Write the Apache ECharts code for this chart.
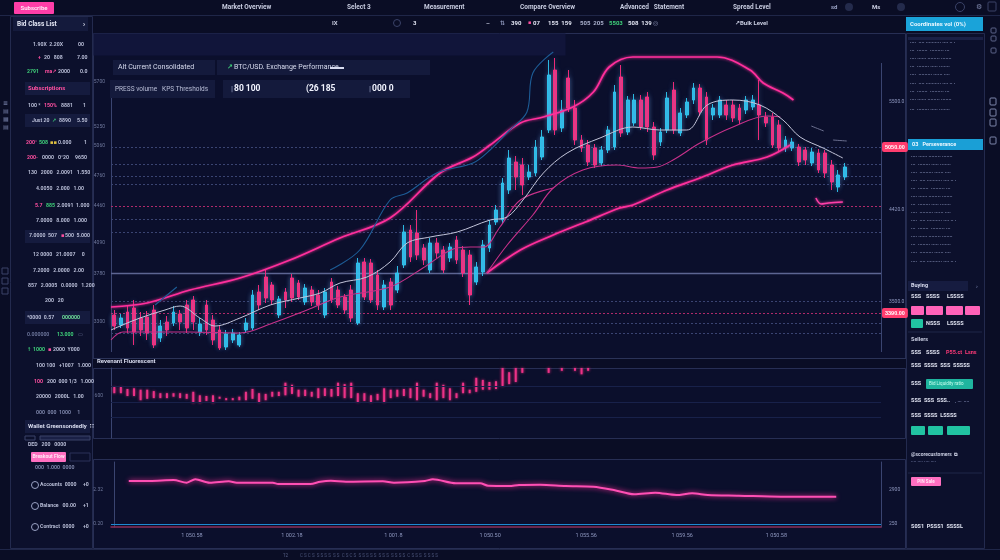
<!DOCTYPE html>
<html>
<head>
<meta charset="utf-8">
<title>Trading dashboard</title>
<script src="https://cdn.jsdelivr.net/npm/echarts@6.0.0/dist/echarts.min.js"></script>
<style>
html, body { margin: 0; padding: 0; background: #0a0d25; }
#chart { width: 1000px; height: 560px; }
</style>
</head>
<body>
<div id="chart"></div>
<script>
// candles: [open, close, low, high]
var candles = [
  [3370,3260,3220,3420],[3270,3340,3240,3380],[3400,3240,3190,3460],[3440,3200,3070,3520],
  [3340,3220,3160,3400],[3350,3190,3120,3410],[3420,3070,3040,3470],[3140,3260,3100,3320],
  [3300,3220,3160,3360],[3290,3400,3260,3460],[3380,3300,3220,3420],[3470,3240,3190,3520],
  [3520,3300,3220,3560],[3200,3280,3160,3340],[3470,3220,3170,3520],[3320,3120,3070,3370],
  [3220,3040,3020,3260],[3050,3180,3020,3220],[3120,3190,3090,3230],[3070,3170,3050,3200],
  [3220,3290,3190,3340],[3240,3570,3220,3620],[3600,3470,3420,3670],[3750,3540,3490,3820],
  [3670,3520,3470,3700],[3370,3530,3340,3560],[3600,3520,3440,3640],[3740,3540,3500,3780],
  [3690,3550,3520,3720],[3500,3640,3470,3680],[3620,3500,3460,3660],[3570,3470,3420,3620],
  [3370,3600,3340,3640],[3700,3520,3490,3740],[3620,3470,3440,3660],[3550,3420,3380,3580],
  [3620,3340,3300,3670],[3290,3890,3270,3940],[3900,3550,3520,3940],[3890,3520,3490,3930],
  [3770,3470,3420,3820],[3450,3670,3420,3720],[3700,3470,3420,3740],[3620,3790,3590,3860],
  [3870,4200,3840,4270],[4220,3950,3900,4270],[4190,3970,3920,4420],[4040,3920,3870,4080],
  [3820,4090,3790,4140],[4090,3990,3940,4140],[4020,3820,3790,4060],[3940,4050,3900,4090],
  [4120,3920,3880,4160],[4020,3790,3750,4060],[3970,3570,3470,4020],[3700,3850,3670,3900],
  [3800,4070,3760,4120],[4040,4270,4000,4320],[4300,4420,4270,4470],[4320,4690,4280,4740],
  [4620,4940,4580,5020],[4900,4750,4620,4960],[4870,4670,4570,4940],[4750,4800,4720,4870],
  [4790,5050,4760,5120],[4950,5150,4920,5220],[5220,5770,5190,5920],[5820,5220,5170,5940],
  [5240,5420,5200,5520],[5740,5440,5400,5820],[5440,5120,5070,5520],[5120,5040,5000,5170],
  [5070,4900,4860,5120],[5040,4870,4840,5080],[4890,5020,4860,5060],[5020,5220,4990,5260],
  [5050,5600,5020,5670],[5750,5190,5150,5870],[5200,5520,5170,5560],[5290,5520,5260,5580],
  [5520,5250,5220,5570],[5550,5250,5200,5600],[5250,4970,4920,5300],[5100,5200,5060,5240],
  [5220,5540,5190,5600],[5620,5220,5180,5700],[5190,5390,5160,5440],[5370,5500,5340,5540],
  [5520,5640,5480,5690],[5640,5400,5360,5680],[5550,5120,5070,5600],[5370,5440,5320,5480],
  [5370,5520,5340,5560],[5470,5370,5320,5520],[5470,5340,5300,5520],[5440,5320,5280,5480],
  [5420,5520,5380,5560],[5450,5520,5420,5570],[5470,5370,5120,5720],[5350,5290,5250,5400],
  [5350,5070,5040,5390],[5270,5040,5000,5320],[5040,5120,5000,5160],[5040,5100,5010,5140],
  [5050,4900,4860,5080],[5020,4920,4870,5050],[4890,5000,4860,5040],[4990,4820,4790,5030],
  [4990,4790,4740,5020],[4870,4700,4620,4920],[4650,4770,4600,4820],[4750,4850,4720,4890]
];
var emptySlots = 5;

// indicator lines: [candle index, price]
var upperBand = [[-0.5,3450],[5,3490],[11.5,3620],[19.1,3740],[26.7,3920],[34.3,4140],[41.9,4340],
  [49.5,4790],[54.5,4950],[57.1,5070],[61.7,5290],[65.2,5350],[69.7,5450],[72.8,5600],[75.2,5850],
  [78.8,5950],[91.6,5950],[96.6,5820],[98.6,5690],[101.6,5590],[103.2,5520]];
var lowerBand = [[56.6,3790],[61.7,4020],[66.7,4170],[71.6,4300],[76.8,4440],[78.8,4470],[84,4620],
  [89,4740],[94,4870],[99.2,4950],[102.7,5070]];
var innerA = [[56.6,3790],[59.7,4070],[63.6,4370],[66.7,4640],[71.2,4820],[76.4,4870],[79.9,4840],
  [82.5,4850],[84.9,4920],[89,5090],[94,5250],[99.2,5360],[101.2,5350]];
var innerB = [[-0.5,3120],[1.3,3200],[11.5,3200],[19.1,3190],[24.1,3290],[29.3,3420],[34.3,3550],
  [41.9,3650],[46.9,3840],[51.5,4030],[54.1,4050],[56.1,4050],[58.6,4250],[61.7,4520],[66.7,4640]];
var maLine = [[-0.5,3220],[0.9,3260],[3.9,3340],[7.7,3420],[10,3460],[13,3340],[15.3,3260],[19.1,3340],
  [23.7,3470],[28.2,3540],[31.3,3590],[34.3,3690],[38.4,3750],[41.9,3900],[44.5,4090],[48,4150],
  [52.1,4200],[57.1,4320],[59.7,4350],[62.1,4520],[65.2,4790],[68.8,4990],[73.8,5140],[78.8,5250],
  [82.9,5220],[87,5220],[90.1,5470],[94,5520],[98.1,5470],[101.6,5320],[104.2,5150],[107.7,5040],[110.7,4940]];
var trendA = [[6.2,3470],[9.5,3650]];
var trendB = [[32.8,3820],[37.3,4020],[41.9,4520],[44.5,4590],[49,4790],[54.5,4890],[57.1,5020],
  [60.1,5220],[62.7,5400],[63.6,5790],[66.7,6000]];
var tailPink = [[106.6,4540],[107.4,4480],[108.5,4490],[110.7,4500]];
var tailGhost1 = [[105.9,5260],[107.8,5210]];
var tailGhost2 = [[109.2,5120],[111.3,5110]];

var levelsGray = [5050,4880,4760,4680,4330,4200,3510,3290,3190];
var levelsPink = [4460,3390];
var levelSolid = 3790;
var badgeLevels = [5050,3390];
var leftTicks = [5700,5250,5060,4760,4460,4090,3780,3300];
var rightTicks = [5500,4420,3500];

// volume (low/high of each floating bar), one entry per candle
var volLow = [640,640,600,600,540,560,570,570,570,590,570,560,500,500,530,500,560,540,540,540,
  540,560,510,540,590,600,610,630,590,600,590,570,600,590,600,570,570,510,530,510,540,510,570,590,
  600,570,540,590,570,540,570,540,570,640,640,660,690,690,700,740,770,800,930,null,null,null,930,
  null,960,null,960,910,960];
var volHigh = [730,730,700,710,690,690,670,640,640,640,640,630,660,610,600,610,590,570,570,590,
  660,700,640,630,660,660,790,760,690,690,660,710,710,700,790,770,790,640,640,610,630,710,690,690,
  700,710,790,690,640,790,760,710,640,790,690,860,830,800,810,1000,940,1000,1000,null,null,null,1000,
  null,1000,null,1000,1000,1000];
var volTicks = [600];
var volGuides = [743,514,300];

// lower oscillator
var oscLine = [[2.2,70.8],[5.4,70.8],[9,72.3],[11,68.2],[12.3,73.4],[14.5,68.2],[17.4,70.3],[18.6,68.2],
  [24.1,68.2],[24.9,66.2],[29.8,66.2],[31.3,69.7],[32.9,71.2],[35.2,69.7],[40.8,70.3],[42.5,68.2],
  [47.2,70.8],[48.4,73.4],[51.9,67.2],[55.6,67.2],[56.8,63.5],[60,63.1],[61.5,64.6],[64.7,65.1],
  [68.6,63.1],[72.8,62],[75.9,56.9],[79,50.3],[82.2,52.8],[85.4,49.2],[87.8,51.8],[90.2,49.2],
  [94.9,48.2],[101.3,46.6],[109.7,46.6]];
var oscBase = 5;
var oscTicks = [58,5];
var timeTicks = [11.8,27,42.4,57.1,71.7,86.3,100.6];
var timeLabels = ['1 050.58','1 002.18','1 001.8','1 050.50','1 055.56','1 059.56','1 050.58'];

var categories = candles.map(function (c, i) { return 'T' + (i + 1); });
for (var k = 0; k < emptySlots; k++) { categories.push(''); }
var volBase = volLow;
var volSize = volHigh.map(function (h, i) { return h === null ? null : h - volLow[i]; });

var FONT = 'Roboto, "DejaVu Sans", sans-serif';
var UP = '#2fc7f0', DOWN = '#ff2d7e', PINK = '#ff2f9c';

function txt(x, y, s, c, sz, w, align) {
  return { type: 'text', x: x, y: y, z: 20, silent: true,
    style: { text: s, fill: c || '#b9bfd8', fontSize: sz || 6, fontFamily: FONT,
      fontWeight: w || 'bold', verticalAlign: 'middle', align: align || 'left' } };
}
function rect(x, y, w, h, fill, stroke, r) {
  return { type: 'rect', z: 0, silent: true, shape: { x: x, y: y, width: w, height: h, r: r || 0 },
    style: { fill: fill || 'none', stroke: stroke || null, lineWidth: 1 } };
}
function seg(x1, y1, x2, y2, c, w) {
  return { type: 'line', z: 1, silent: true, shape: { x1: x1, y1: y1, x2: x2, y2: y2 },
    style: { stroke: c, lineWidth: w || 1 } };
}
function circ(cx, cy, r, fill, stroke) {
  return { type: 'circle', z: 1, silent: true, shape: { cx: cx, cy: cy, r: r },
    style: { fill: fill || 'none', stroke: stroke || null, lineWidth: 1 } };
}

var G = '#b8bdd6', PK = '#ff4fa0', GR = '#3fd07a';
var leftRows = [
  [45, [[33, '1.90X  2.20X', G], [78, '00', G]]],
  [58, [[38, '+', PK], [44, '20   808', G], [77, '7.00', G]]],
  [72, [[27, '2791', GR], [45, 'ma↗', PK], [58, '2000', G], [80, '0.0', G]]],
  [106, [[28, '100 *', G], [44, '150%', PK], [61, '8881', G], [83, '1', G]]],
  [121, [[32, 'Just 20', G], [52, '↗', GR], [59, '8890', G], [77, '5.50', G]]],
  [143, [[26, '200°', PK], [39, '508', GR], [50, '▪▪', '#e0c040'], [58, '0.000', G], [84, '1', G]]],
  [158, [[27, '200-', PK], [42, '0000', G], [58, '0°20', G], [75, '9650', G]]],
  [173, [[28, '130   2000   2.0091   1.550', G]]],
  [189, [[36, '4.0050   2.000   1.00', G]]],
  [206, [[35, '5.7', PK], [46, '885', GR], [57, '2.0091  1.000', G]]],
  [221, [[36, '7.0000   8.000   1.000', G]]],
  [236, [[29, '7.0000  507', G], [61, '▪', PK], [65, '500  5.000', G]]],
  [255, [[33, '12 0000   21.0007     0', G]]],
  [271, [[33, '7.2000   2.0000   2.00', G]]],
  [286, [[28, '857   2.0005   0.0000   1.200', G]]],
  [301, [[45, '200   20', G]]],
  [318, [[27, '*0000  0.57', G], [62, '000000', '#6fe09a']]],
  [335, [[27, '0.000000', '#6a7398'], [57, '13.000', GR], [78, '▭', '#6a7398']]],
  [350, [[27, '↑', GR], [33, '1000', GR], [48, '▪', PK], [53, '2000  Y000', G]]],
  [366, [[36, '100 100   +1007   1.000', G]]],
  [382, [[34, '100', PK], [47, '200  000 1/3   1.000', G]]],
  [397, [[36, '20000   2000L   1.00', G]]],
  [413, [[36, '000  000  1000     1', '#7c84a8']]],
  [445, [[28, 'DED   200   0000', G]]],
  [468, [[35, '000  1.000  0000', '#7c84a8']]],
  [485, [[40, 'Accounts  0000', G], [83, '+0', G]]],
  [506, [[40, 'Balance   00.00', G], [83, '+1', G]]],
  [527, [[40, 'Contract  0000', G], [83, '+0', G]]]
];
var leftBands = [[82, 'Subscriptions', PK], [114, null], [230, null], [311, null], [420, 'Wallet Greensondedly  ∷', '#d8dcef']];

var rightRowsTop = [43, 51, 59, 67, 75, 84, 92, 100, 110];
var rightRowsMid = [157, 165, 173, 181, 189, 197, 205, 213, 221, 229, 237, 245, 253, 262];
var rightRowText = ['····  ···· ·········· ···· ·· ·', '···  ·······  ········· ···', '···· ······ ········ ·······',
  '···  ········ ····· ·······', '····  ········· ······ ····'];

var topMenu = [[222, 'Market Overview'], [347, 'Select 3'], [424, 'Measurement'], [520, 'Compare Overview'],
  [620, 'Advanced   Statement'], [733, 'Spread Level']];

function buildGraphic() {
  var g = [];
  // frames
  g.push(seg(0, 15.5, 1000, 15.5, '#1f2648'));
  g.push(rect(10.5, 16.5, 82, 532, '#0c102c', '#232a4e'));
  g.push(rect(93.5, 33.5, 812, 325, '#0b0f2c', '#272e54'));
  g.push(rect(93.5, 33.5, 472, 22, '#11153a', null));
  g.push(rect(93.5, 368.5, 812, 70, '#0b0f2c', '#272e54'));
  g.push(rect(93.5, 459.5, 812, 89, '#0b0f2c', '#272e54'));
  g.push(rect(906.5, 33.5, 78, 515, '#0c102c', '#232a4e'));
  g.push(seg(111.5, 98, 111.5, 352, '#3a4470'));
  g.push(seg(881.5, 63, 881.5, 352, '#3a4470'));
  g.push(seg(93, 358.5, 906, 358.5, '#2b3358'));
  g.push(seg(0, 549.5, 1000, 549.5, '#1f2648'));
  // top bar
  g.push(rect(14, 2, 40, 12, '#ff3ea8', null, 1));
  g.push(txt(34, 8, 'Subscribe', '#ffe6f4', 6, 'bold', 'center'));
  topMenu.forEach(function (m) { g.push(txt(m[0], 7, m[1], '#c8cce0', 6.5)); });
  g.push(txt(831, 7, 'sd', '#9aa2c4', 6)); g.push(circ(849, 7, 4, '#242b4c'));
  g.push(txt(872, 7, 'Ms', '#c8cce0', 6)); g.push(circ(901, 7, 4, '#242b4c'));
  g.push(circ(960, 7, 4.5, null, '#3a4268')); g.push(txt(976, 7, '⚙', '#7d86ab', 7));
  g.push(rect(988, 2, 8, 9, null, '#3a4268', 1));
  // second bar
  g.push(rect(13, 17, 75, 14, '#141a3c', null));
  g.push(txt(17, 24, 'Bid Class List', '#e2e5f3', 6.5)); g.push(txt(83, 24, '›', '#e2e5f3', 7));
  g.push(txt(332, 23, 'IX', '#c8cce0', 6)); g.push(circ(397, 23, 3.5, null, '#3a4268'));
  g.push(txt(413, 23, '3', '#e2e5f3', 6)); g.push(txt(486, 23, '–', '#c8cce0', 6));
  g.push(txt(500, 23, '⇅', '#8a92b6', 6)); g.push(txt(511, 23, '390', '#e2e5f3', 6));
  g.push(txt(528, 23, '▪', PK, 5)); g.push(txt(533, 23, '07', '#e2e5f3', 6));
  g.push(txt(548, 23, '155  159', '#e2e5f3', 6)); g.push(txt(580, 23, '505  205', '#aab0cc', 6));
  g.push(txt(609, 23, '5503', GR, 6)); g.push(txt(628, 23, '508  139', '#e2e5f3', 6));
  g.push(txt(653, 23, '◎', '#8a92b6', 6)); g.push(txt(735, 23, '↗Bulk Level', '#c8cce0', 6));
  g.push(rect(906, 17, 77, 14, '#1aa3d9', null));
  g.push(txt(910, 24, 'Coordinates vol (0%)', '#eaf7ff', 6));
  // chart info boxes
  g.push(rect(113, 60, 102, 15, '#141a3c', null));
  g.push(txt(118, 67.5, 'Alt Current Consolidated', '#d8dcef', 7, 'normal'));
  g.push(rect(217, 60, 213, 15, '#141a3c', null));
  g.push(txt(227, 67.5, '↗', GR, 7)); g.push(txt(234, 67.5, 'BTC/USD. Exchange Performance', '#d8dcef', 7, 'normal'));
  g.push(rect(330, 67, 14, 2, '#d8dcef', null));
  g.push(rect(110, 80, 105, 18, '#141a3c', null));
  g.push(txt(115, 89, 'PRESS volume   KPS Thresholds', '#b8bdd6', 6.5, 'normal'));
  g.push(rect(223, 80, 187, 18, '#141a3c', null));
  g.push(txt(231, 89, '|', '#8a92b6', 8)); g.push(txt(234, 89, '80 100', '#f2f4ff', 8.5));
  g.push(txt(306, 89, '(26 185', '#f2f4ff', 8.5));
  g.push(txt(369, 89, '|', '#8a92b6', 8)); g.push(txt(372, 89, '000 0', '#f2f4ff', 8.5));
  g.push(txt(97, 361, 'Revenant Fluorescent', '#d8dcef', 6));
  // left sidebar
  leftBands.forEach(function (b) {
    g.push(rect(25, b[0], 65, 13, '#151b3e', null));
    if (b[1]) { g.push(txt(28, b[0] + 6.5, b[1], b[2], 6)); }
  });
  leftRows.forEach(function (r) {
    r[1].forEach(function (s) { g.push(txt(s[0], r[0], s[1], s[2], 5.2)); });
  });
  g.push(rect(25, 436, 10, 4, null, '#3a4268')); g.push(rect(40, 436, 50, 4, '#1a2046', '#3a4268'));
  g.push(rect(31, 452, 35, 10, '#ff6fc0', null, 1));
  g.push(txt(48.5, 457, 'Breakout Flow', '#ffe6f4', 5, 'bold', 'center'));
  g.push(rect(70, 453, 20, 8, null, '#2a3158'));
  [485, 506, 527].forEach(function (y) { g.push(circ(35, y, 3.5, null, '#9aa2c4')); });
  ['≡', '▤', '▦', '▤'].forEach(function (s, i) { g.push(txt(3, 103 + i * 8, s, '#6f78a0', 6)); });
  [268, 278, 288].forEach(function (y) { g.push(rect(2, y, 6, 6, null, '#3a4268')); });
  // right sidebar
  g.push(rect(908, 37, 75, 3, '#1a2046', null));
  rightRowsTop.forEach(function (y, i) { g.push(txt(910, y, rightRowText[i % 5], '#8e97bf', 5, 'bold')); });
  g.push(rect(908, 139, 75, 11, '#1a9fd6', null));
  g.push(txt(912, 144.5, '03   Perseverance', '#eaf7ff', 5.5));
  rightRowsMid.forEach(function (y, i) { g.push(txt(911, y, rightRowText[(i + 2) % 5], '#8e97bf', 5, 'bold')); });
  g.push(rect(908, 281, 60, 10, '#161c40', null));
  g.push(txt(911, 286, 'Buying', '#d8dcef', 5.5)); g.push(txt(976, 286, '›', '#6f78a0', 6));
  g.push(txt(911, 297, 'SSS', '#e2e5f3', 5.5)); g.push(txt(926, 297, 'SSSS', '#e2e5f3', 5.5)); g.push(txt(947, 297, 'LSSSS', '#e2e5f3', 5.5));
  [[911, 13], [926, 17], [946, 17], [965, 15]].forEach(function (p) { g.push(rect(p[0], 306, p[1], 9, '#ff62b8', null, 1)); });
  g.push(rect(911, 319, 12, 9, '#21c3a1', null, 1));
  g.push(txt(926, 323.5, 'NSSS', '#e2e5f3', 5.5)); g.push(txt(947, 323.5, 'LSSSS', '#e2e5f3', 5.5));
  g.push(seg(908, 332, 982, 332, '#1f2648'));
  g.push(txt(911, 340, 'Sellers', '#c8cce0', 5.5));
  g.push(txt(911, 353, 'SSS', '#e2e5f3', 5.5)); g.push(txt(926, 353, 'SSSS', '#e2e5f3', 5.5));
  g.push(txt(946, 353, 'P55.ct  Lsns', '#ff3a78', 5.5));
  g.push(txt(911, 366, 'SSS  SSSS  SSS  SSSSS', '#e2e5f3', 5.5));
  g.push(txt(911, 384, 'SSS', '#e2e5f3', 5.5)); g.push(rect(926, 379, 47, 10, '#1fb59f', null, 1));
  g.push(txt(929, 384, 'Bid Liquidity ratio', '#c8fff0', 4.5, 'normal'));
  g.push(txt(911, 401, 'SSS  SSS  SSS..', '#e2e5f3', 5.5)); g.push(txt(955, 402, '. ···  ····', '#8e97bf', 4.5));
  g.push(txt(911, 416, 'SSS  SSSS  LSSSS', '#e2e5f3', 5.5));
  [[911, 14], [928, 15], [947, 23]].forEach(function (p) { g.push(rect(p[0], 426, p[1], 9, '#21c3a1', null, 1)); });
  g.push(txt(911, 455, '@scorecustomers  ⧉', '#c8cce0', 5)); g.push(txt(911, 462, '···· ···· ···· ····', '#6f78a0', 4.5));
  g.push(seg(908, 473, 982, 473, '#1f2648'));
  g.push(rect(911, 477, 30, 9, '#ff6fc0', null, 1));
  g.push(txt(926, 481.5, 'PIN Sale', '#ffe6f4', 4.5, 'bold', 'center'));
  g.push(txt(911, 527, 'S0S1  PSSS1  SSSSL', '#e2e5f3', 5.5));
  [101, 112, 122, 140].forEach(function (y) { g.push(rect(990, y - 3, 6, 7, null, '#7d86ab', 1)); });
  [30, 38, 50].forEach(function (y) { g.push(rect(991, y - 2, 5, 5, null, '#5a6388', 1)); });
  // bottom strip
  g.push(txt(283, 556, '12', '#5a6388', 4.5, 'normal'));
  g.push(txt(300, 556, 'C S C S  S S S S  S S  C S C S  S S S S S  S S S  S S S S  C S S S  S S S S', '#4a5378', 4.5, 'normal'));
  return g;
}

function badge(v) {
  return { show: true, position: 'end', formatter: v.toFixed(2), backgroundColor: '#ff3d6e',
    color: '#fff', fontSize: 5.5, fontWeight: 'bold', padding: [2, 3], borderRadius: 2, distance: 1 };
}
var levelLines = [];
levelsGray.forEach(function (v) {
  var item = { yAxis: v, lineStyle: { color: '#3a4472', type: [2, 2], width: 1 } };
  if (badgeLevels.indexOf(v) >= 0) { item.label = badge(v); }
  levelLines.push(item);
});
levelsPink.forEach(function (v) {
  var item = { yAxis: v, lineStyle: { color: '#b0296a', type: [2, 2], width: 1 } };
  if (badgeLevels.indexOf(v) >= 0) { item.label = badge(v); }
  levelLines.push(item);
});
levelLines.push({ yAxis: levelSolid, lineStyle: { color: '#5d6592', type: 'solid', width: 1.3 } });

function bandLine(name, data, color, width, glow) {
  return { name: name, type: 'line', xAxisIndex: 1, yAxisIndex: 0, data: data, showSymbol: false,
    smooth: 0.35, z: 4, silent: true,
    lineStyle: { color: color, width: width, shadowBlur: glow ? 3 : 0, shadowColor: color } };
}

var chart = echarts.init(document.getElementById('chart'));
var option = {
  backgroundColor: '#0a0d25',
  animation: false,
  graphic: { elements: buildGraphic() },
  grid: [
    { left: 111, top: 35, width: 770, height: 317 },
    { left: 111, top: 368, width: 770, height: 70 },
    { left: 111, top: 462, width: 770, height: 65 }
  ],
  xAxis: [
    { type: 'category', gridIndex: 0, data: categories, show: false },
    { type: 'value', gridIndex: 0, min: -0.5, max: categories.length - 0.5, show: false },
    { type: 'category', gridIndex: 1, data: categories, show: false },
    { type: 'value', gridIndex: 2, min: -0.5, max: categories.length - 0.5,
      axisLine: { show: true, lineStyle: { color: '#8a2f55', width: 1.5 } },
      axisTick: { show: false }, splitLine: { show: false },
      axisLabel: { customValues: timeTicks, color: '#8e97bf', fontSize: 5.5, margin: 6, fontFamily: FONT,
        formatter: function (v) { var i = timeTicks.indexOf(v); return i < 0 ? '' : timeLabels[i]; } } }
  ],
  yAxis: [
    { type: 'value', gridIndex: 0, min: 3000, max: 6170, position: 'left',
      axisLine: { show: false }, axisTick: { show: false }, splitLine: { show: false },
      axisLabel: { customValues: leftTicks, color: '#6f789c', fontSize: 5, margin: 6, fontFamily: FONT,
        formatter: function (v) { return String(v); } } },
    { type: 'value', gridIndex: 0, min: 3000, max: 6170, position: 'right',
      axisLine: { show: false }, axisTick: { show: false }, splitLine: { show: false },
      axisLabel: { customValues: rightTicks, color: '#8e97bf', fontSize: 5, margin: 8, fontFamily: FONT,
        formatter: function (v) { return v.toFixed(1); } } },
    { type: 'value', gridIndex: 1, min: 0, max: 1000,
      axisLine: { show: true, lineStyle: { color: '#3a4470' } }, axisTick: { show: false }, splitLine: { show: false },
      axisLabel: { customValues: volTicks, color: '#6f789c', fontSize: 5, margin: 8, fontFamily: FONT } },
    { type: 'value', gridIndex: 2, min: 0, max: 100, position: 'left',
      axisLine: { show: true, lineStyle: { color: '#3a4470' } }, axisTick: { show: false }, splitLine: { show: false },
      axisLabel: { customValues: oscTicks, color: '#6f789c', fontSize: 5, margin: 8, fontFamily: FONT,
        formatter: function (v) { return (v / 25).toFixed(2); } } },
    { type: 'value', gridIndex: 2, min: 0, max: 100, position: 'right',
      axisLine: { show: true, lineStyle: { color: '#3a4470' } }, axisTick: { show: false }, splitLine: { show: false },
      axisLabel: { customValues: oscTicks, color: '#8e97bf', fontSize: 5, margin: 8, fontFamily: FONT,
        formatter: function (v) { return (v * 50).toFixed(0); } } }
  ],
  series: [
    { name: 'price', type: 'candlestick', xAxisIndex: 0, yAxisIndex: 0, data: candles,
      barMaxWidth: 4.6, z: 3, silent: true,
      itemStyle: { color: UP, color0: DOWN, borderColor: UP, borderColor0: DOWN, borderWidth: 1,
        shadowBlur: 5, shadowColor: 'rgba(120,180,255,0.45)', opacity: 0.92 },
      markLine: { silent: true, symbol: 'none', label: { show: false }, data: levelLines, z: 1 } },
    bandLine('upper', upperBand, PINK, 1.7, true),
    bandLine('lower', lowerBand, PINK, 1.7, true),
    bandLine('innerA', innerA, '#c7318a', 1.1, false),
    bandLine('innerB', innerB, '#c7318a', 1.1, false),
    bandLine('ma', maLine, '#c3c5da', 1, false),
    bandLine('trendA', trendA, '#1d5c96', 1.1, false),
    bandLine('trendB', trendB, '#1d5c96', 1.1, false),
    bandLine('tail', tailPink, '#ff3fa8', 1.5, true),
    bandLine('ghost1', tailGhost1, '#6c7090', 1, false),
    bandLine('ghost2', tailGhost2, '#6c7090', 1, false),
    { name: 'volBase', type: 'bar', xAxisIndex: 2, yAxisIndex: 2, stack: 'vol', data: volBase,
      barWidth: 2, silent: true, itemStyle: { color: 'rgba(0,0,0,0)' },
      markLine: { silent: true, symbol: 'none', label: { show: false },
        data: volGuides.map(function (v) { return { yAxis: v }; }),
        lineStyle: { color: '#18214a', type: 'solid', width: 1 } } },
    { name: 'volume', type: 'bar', xAxisIndex: 2, yAxisIndex: 2, stack: 'vol', data: volSize,
      barWidth: 2, silent: true, itemStyle: { color: '#ec3288', shadowBlur: 3, shadowColor: '#ff2d7e' } },
    { name: 'oscillator', type: 'line', xAxisIndex: 3, yAxisIndex: 3, data: oscLine, showSymbol: false,
      smooth: 0.3, silent: true,
      lineStyle: { color: '#ff4fb4', width: 2, shadowBlur: 5, shadowColor: '#ff2d9b' },
      markLine: { silent: true, symbol: 'none', label: { show: false },
        data: [{ yAxis: oscBase }], lineStyle: { color: '#1e88d0', type: 'solid', width: 1.2 } } }
  ]
};
chart.setOption(option);
</script>
</body>
</html>
